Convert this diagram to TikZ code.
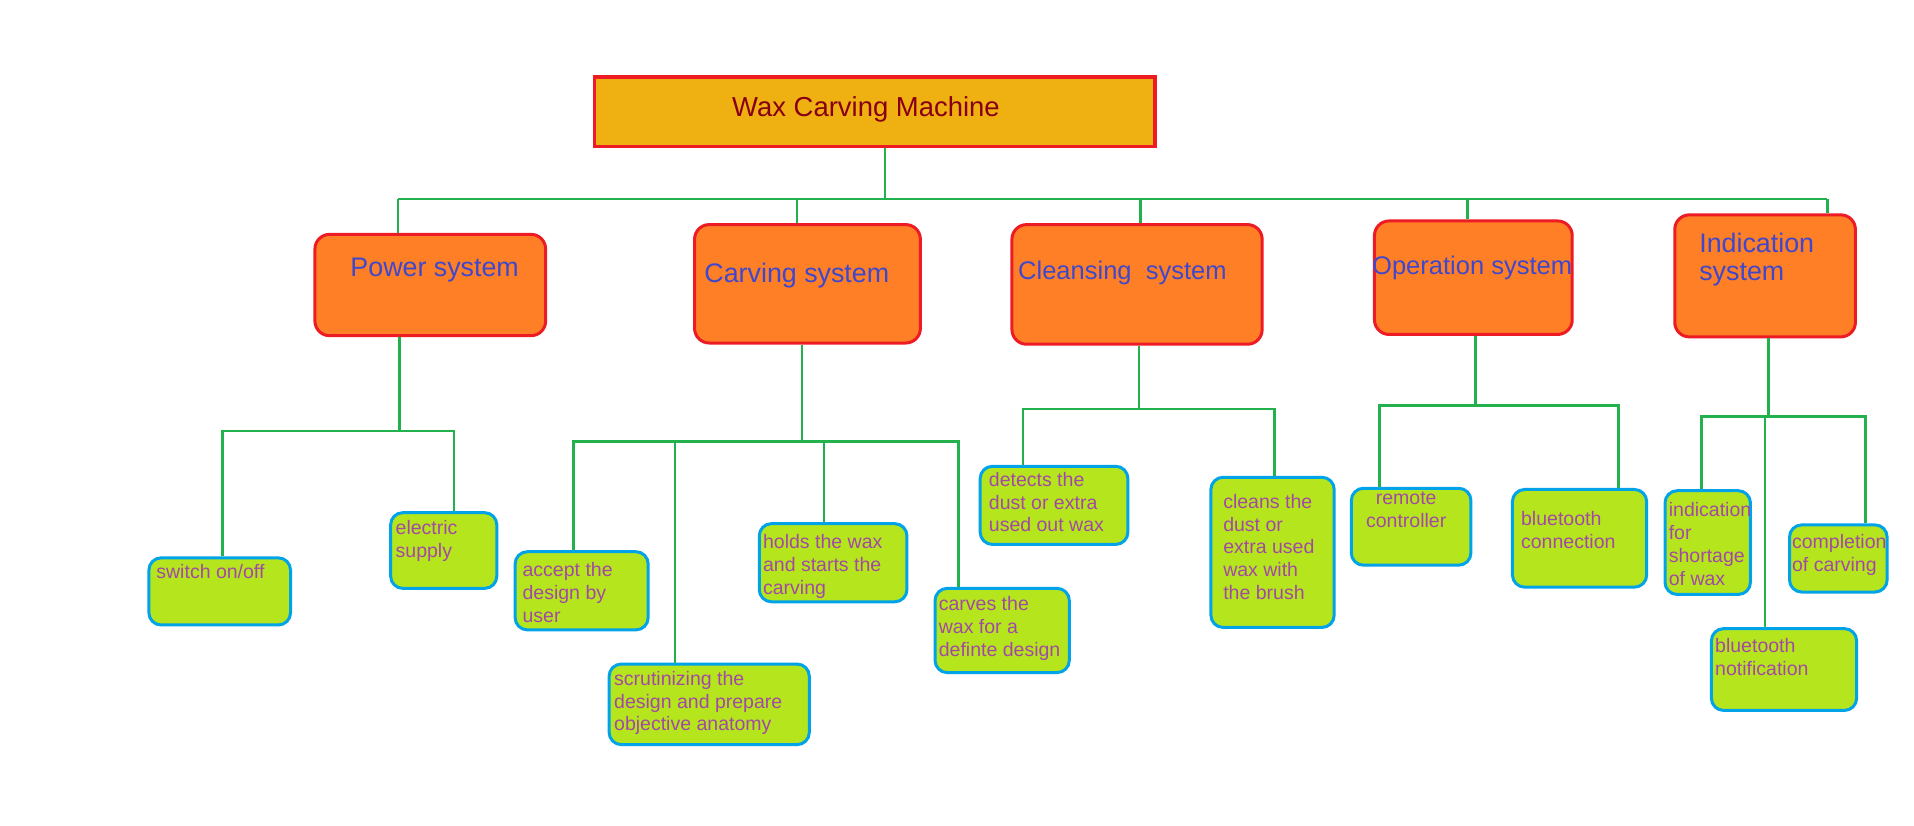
\documentclass[tikz,border=0pt]{standalone}
\usepackage{fontspec}
\setmainfont{Liberation Sans}
\usetikzlibrary{positioning}
\definecolor{boxred}{HTML}{ED1C24}
\definecolor{rootfill}{HTML}{EEB111}
\definecolor{rootink}{HTML}{880015}
\definecolor{sysfill}{HTML}{FF7F27}
\definecolor{sysink}{HTML}{3F48CC}
\definecolor{leaffill}{HTML}{B5E61D}
\definecolor{leafedge}{HTML}{00A2E8}
\definecolor{leafink}{HTML}{A349A4}
\definecolor{linkgreen}{HTML}{22B14C}
\def \u {0.02cm}
\tikzset{
 	rootblock/.style= {draw=boxred, line width=1.7pt, rectangle, fill=rootfill, inner sep=0pt},
 	sysblock/.style= {draw=boxred, line width=1.4pt, rectangle, rounded corners=0.24cm, fill=sysfill, inner sep=0pt},
 	leafblock/.style= {draw=leafedge, line width=1.4pt, rectangle, rounded corners=0.2cm, fill=leaffill, inner sep=0pt},
 	systext/.style= {inner sep=0pt, align=left, text=sysink, font=\fontsize{12.5}{13.1}\selectfont},
 	narrowsystext/.style= {systext, font=\fontsize{11.9}{13.1}\selectfont},
 	roottext/.style= {systext, text=rootink, font=\fontsize{12.8}{13.1}\selectfont},
 	leaftext/.style= {inner sep=0pt, align=left, text=leafink, font=\fontsize{9.1}{10.7}\selectfont},
 	link/.style= {draw=linkgreen, line width=1.3pt}
 }
\begin{document}
\begin{tikzpicture}[x=\u, y=-\u]
    \useasboundingbox (0,0) rectangle (1568,676);

%%%%%%%%%%%%%%%%%%%%% Nodes %%%%%%%%%%%%%%%%%%%%%
    \node [rootblock, minimum width=459*\u, minimum height=57*\u] (W) at (716.5,91.5) {};
    \node [roottext, below right=17*\u and 114*\u of W.north west] (Wt) {Wax Carving Machine};

    \node [sysblock, minimum width=189*\u, minimum height=83*\u] (P) at (352.5,233.5) {};
    \node [sysblock, minimum width=185*\u, minimum height=97*\u] (C) at (661.5,232.5) {};
    \node [sysblock, minimum width=205*\u, minimum height=98*\u] (Cl) at (931.5,233) {};
    \node [sysblock, minimum width=162*\u, minimum height=93*\u] (O) at (1207,227.5) {};
    \node [sysblock, minimum width=148*\u, minimum height=100*\u] (I) at (1446,226) {};

    \node [systext, below right=20*\u and 30*\u of P.north west] (Pt) {Power system};
    \node [systext, below right=32*\u and 9*\u of C.north west] (Ct) {Carving system};
    \node [narrowsystext, below right=31*\u and 6*\u of Cl.north west] (Clt) {Cleansing~ system};
    \node [narrowsystext, below right=30*\u and -1*\u of O.north west] (Ot) {Operation system};
    \node [systext, below right=16*\u and 21*\u of I.north west] (It) {Indication\\system};

    \node [leafblock, minimum width=116*\u, minimum height=55*\u] (1_1) at (180,484.5) {};
    \node [leafblock, minimum width=87*\u, minimum height=62*\u] (1_2) at (363.5,451) {};
    \node [leaftext, below right=6.5*\u and 7*\u of 1_1.north west] (1_1t) {switch on/off};
    \node [leaftext, below right=7.5*\u and 5*\u of 1_2.north west] (1_2t) {electric\\supply};

    \node [leafblock, minimum width=109*\u, minimum height=64*\u] (2_1) at (476.5,484) {};
    \node [leafblock, minimum width=164*\u, minimum height=66*\u] (2_2) at (581,577) {};
    \node [leafblock, minimum width=121*\u, minimum height=64*\u] (2_3) at (682.5,461) {};
    \node [leafblock, minimum width=110*\u, minimum height=69*\u] (2_4) at (821,516.5) {};
    \node [leaftext, below right=9.5*\u and 7*\u of 2_1.north west] (2_1t) {accept the\\design by\\user};
    \node [leaftext, below right=6.5*\u and 5*\u of 2_2.north west] (2_2t) {scrutinizing the\\design and prepare\\objective anatomy};
    \node [leaftext, below right=9.5*\u and 4*\u of 2_3.north west] (2_3t) {holds the wax\\and starts the\\carving};
    \node [leaftext, below right=7.5*\u and 4*\u of 2_4.north west] (2_4t) {carves the\\wax for a\\definte design};

    \node [leafblock, minimum width=121*\u, minimum height=64*\u] (3_1) at (863.5,414) {};
    \node [leafblock, minimum width=101*\u, minimum height=123*\u] (3_2) at (1042.5,452.5) {};
    \node [leaftext, below right=5.5*\u and 8*\u of 3_1.north west] (3_1t) {detects the\\dust or extra\\used out wax};
    \node [leaftext, below right=14.5*\u and 11*\u of 3_2.north west] (3_2t) {cleans the\\dust or\\extra used\\wax with\\the brush};

    \node [leafblock, minimum width=98*\u, minimum height=63*\u] (4_1) at (1156,431.5) {};
    \node [leafblock, minimum width=110*\u, minimum height=80*\u] (4_2) at (1294,441) {};
    \node [leaftext, align=center, below=3.5*\u of 4_1.north, xshift=-4*\u] (4_1t) {remote\\controller};
    \node [leaftext, below right=18.5*\u and 8*\u of 4_2.north west] (4_2t) {bluetooth\\connection};

    \node [leafblock, minimum width=70*\u, minimum height=85*\u] (5_1) at (1399,444.5) {};
    \node [leafblock, minimum width=80*\u, minimum height=55*\u] (5_2) at (1506,457.5) {};
    \node [leafblock, minimum width=119*\u, minimum height=67*\u] (5_3) at (1461.5,548.5) {};
    \node [leaftext, below right=10.5*\u and 4*\u of 5_1.north west] (5_1t) {indication\\for\\shortage\\of wax};
    \node [leaftext, below right=8.5*\u and 3*\u of 5_2.north west] (5_2t) {completion\\of carving};
    \node [leaftext, below right=8.5*\u and 4*\u of 5_3.north west] (5_3t) {bluetooth\\notification};

%%%%%%%%%%%%%%%%%%%%% Links %%%%%%%%%%%%%%%%%%%%%
    \coordinate (j0) at (725,163);
    \coordinate (k1) at (326,163);
    \coordinate (k2) at (653,163);
    \coordinate (k3) at (934,163);
    \coordinate (k4) at (1202,163);
    \coordinate (k5) at (1497,163);
    \draw[link] (W.south -| j0) -- (j0);
    \draw[link] (k1) -- (k5);
    \draw[link] (k1) -- (P.north -| k1);
    \draw[link] (k2) -- (C.north -| k2);
    \draw[link] (k3) -- (Cl.north -| k3);
    \draw[link] (k4) -- (O.north -| k4);
    \draw[link] (k5) -- (I.north -| k5);

    \coordinate (j1) at (327,353);
    \coordinate (t1_1) at (182,353);
    \coordinate (t1_2) at (372,353);
    \draw[link] (P.south -| j1) -- (j1);
    \draw[link] (1_1.north -| t1_1) |- (j1) -| (1_2.north -| t1_2);

    \coordinate (j2) at (657,362);
    \coordinate (t2_1) at (470,362);
    \coordinate (t2_2) at (553,362);
    \coordinate (t2_3) at (675,362);
    \coordinate (t2_4) at (785,362);
    \draw[link] (C.south -| j2) -- (j2);
    \draw[link] (2_1.north -| t2_1) |- (j2) -| (2_4.north -| t2_4);
    \draw[link] (t2_2) -- (2_2.north -| t2_2);
    \draw[link] (t2_3) -- (2_3.north -| t2_3);

    \coordinate (j3) at (933,335);
    \coordinate (t3_1) at (838,335);
    \coordinate (t3_2) at (1044,335);
    \draw[link] (Cl.south -| j3) -- (j3);
    \draw[link] (3_1.north -| t3_1) |- (j3) -| (3_2.north -| t3_2);

    \coordinate (j4) at (1209,332);
    \coordinate (t4_1) at (1130,332);
    \coordinate (t4_2) at (1326,332);
    \draw[link] (O.south -| j4) -- (j4);
    \draw[link] (4_1.north -| t4_1) |- (j4) -| (4_2.north -| t4_2);

    \coordinate (j5) at (1449,341);
    \coordinate (t5_1) at (1394,341);
    \coordinate (t5_2) at (1528,341);
    \coordinate (t5_3) at (1446,341);
    \draw[link] (I.south -| j5) -- (j5);
    \draw[link] (5_1.north -| t5_1) |- (j5) -| (5_2.north -| t5_2);
    \draw[link] (t5_3) -- (5_3.north -| t5_3);

\end{tikzpicture}
\end{document}
